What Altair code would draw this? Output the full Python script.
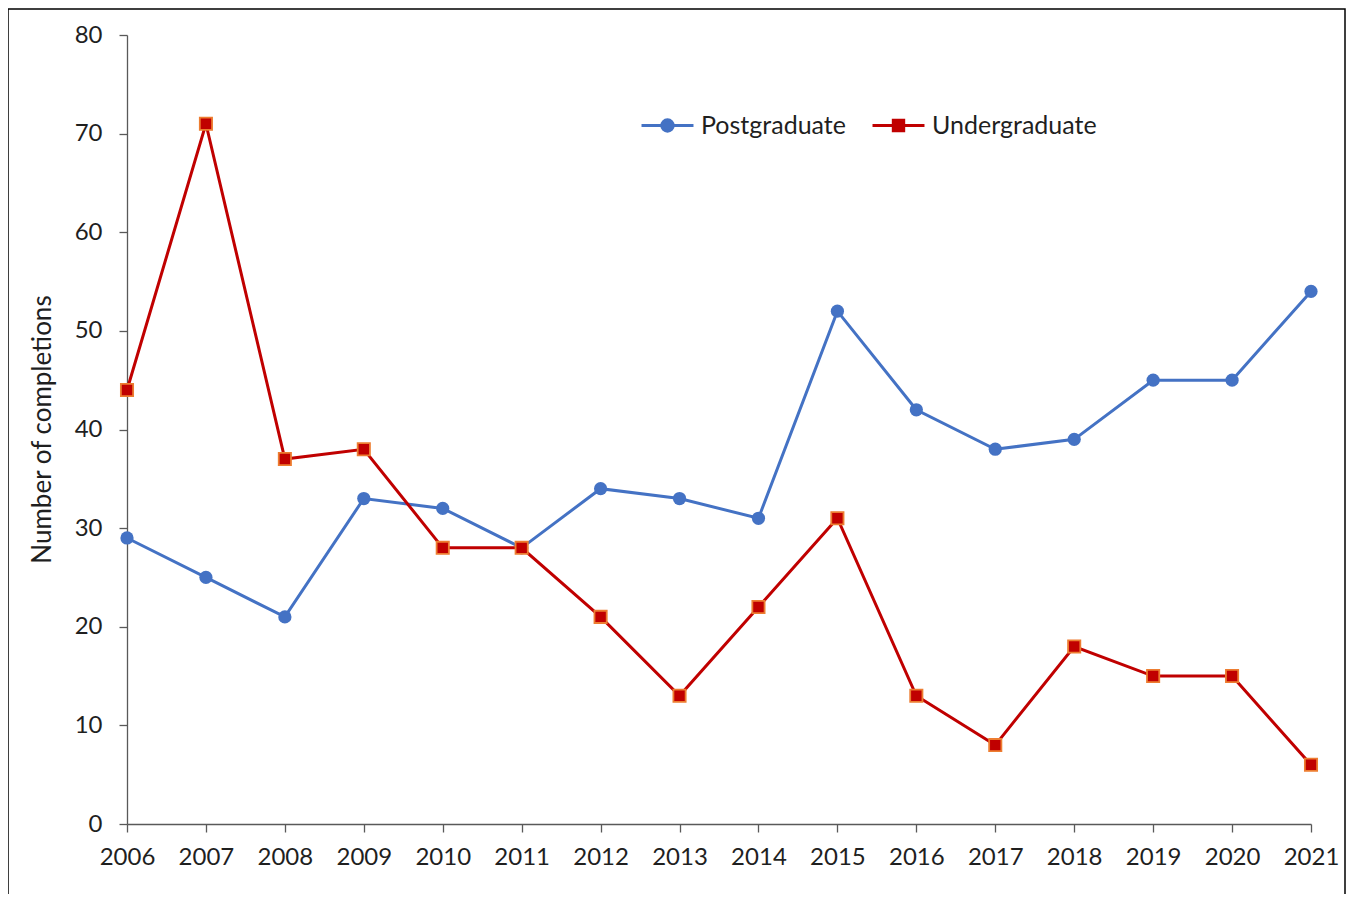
import altair as alt
import pandas as pd

years = list(range(2006, 2022))
postgraduate = [29, 25, 21, 33, 32, 28, 34, 33, 31, 52, 42, 38, 39, 45, 45, 54]
undergraduate = [44, 71, 37, 38, 28, 28, 21, 13, 22, 31, 13, 8, 18, 15, 15, 6]
series_names = ["Postgraduate", "Undergraduate"]
line_colors = ["#4472C4", "#C00000"]
marker_stroke = ["#4472C4", "#ED7D31"]
y_ticks = [0, 10, 20, 30, 40, 50, 60, 70, 80]
y_title = "Number of completions"

FONT = "Lato"
TEXT = "#1f1f1f"
AXIS = "#595959"

df = pd.DataFrame({
    "Year": years + years,
    "Completions": postgraduate + undergraduate,
    "Series": [series_names[0]] * len(years) + [series_names[1]] * len(years),
})

x_enc = alt.X("Year:Q", scale=alt.Scale(domain=[years[0], years[-1]], nice=False, zero=False),
              axis=alt.Axis(values=years, format="d", title=None, grid=False,
                            labelFont=FONT, labelFontSize=24, labelColor=TEXT,
                            labelPadding=13, tickSize=8, labelFlush=False))
y_enc = alt.Y("Completions:Q", scale=alt.Scale(domain=[0, 80], nice=False),
              axis=alt.Axis(values=y_ticks, title=y_title, grid=False,
                            labelFont=FONT, labelFontSize=24, labelColor=TEXT,
                            labelPadding=17, tickSize=8,
                            titleFont=FONT, titleFontSize=26, titleFontWeight="normal",
                            titleColor=TEXT, titleX=-85, titleY=394, titleAngle=270,
                            titleAlign="center", titleBaseline="middle"))

lines = alt.Chart(df).mark_line(strokeWidth=3).encode(
    x=x_enc, y=y_enc,
    color=alt.Color("Series:N", scale=alt.Scale(domain=series_names, range=line_colors), legend=None),
)

circles = alt.Chart(df).transform_filter(alt.datum.Series == series_names[0]).mark_point(
    shape="circle", filled=True, size=175, color=line_colors[0], opacity=1
).encode(x=x_enc, y=y_enc)

squares = alt.Chart(df).transform_filter(alt.datum.Series == series_names[1]).mark_point(
    shape="square", filled=True, size=150, fill=line_colors[1], stroke=marker_stroke[1],
    strokeWidth=1.8, opacity=1
).encode(x=x_enc, y=y_enc)

# legend glyphs: a line segment with the marker in the middle
circle_path = ("M-1,0L1,0M0.22,0C0.22,0.1215 0.1215,0.22 0,0.22C-0.1215,0.22 -0.22,0.1215 -0.22,0"
               "C-0.22,-0.1215 -0.1215,-0.22 0,-0.22C0.1215,-0.22 0.22,-0.1215 0.22,0Z")
square_path = "M-1,0L1,0M-0.2,-0.2L0.2,-0.2L0.2,0.2L-0.2,0.2Z"


def legend_for(name, glyph, lx):
    return alt.Legend(title=None, orient="none", legendX=lx, legendY=63, values=[name],
                      symbolType=glyph, symbolSize=2700, symbolStrokeWidth=3, symbolOpacity=1,
                      labelFont=FONT, labelFontSize=25, labelColor=TEXT, labelOffset=6,
                      labelLimit=400)


def legend_layer(name, glyph, lx):
    leg = legend_for(name, glyph, lx)
    return alt.Chart(df).transform_filter("false").mark_point(filled=True, opacity=1).encode(
        x=x_enc, y=y_enc,
        fill=alt.Fill("Series:N", scale=alt.Scale(domain=series_names, range=line_colors), legend=leg),
        stroke=alt.Stroke("Series:N", scale=alt.Scale(domain=series_names, range=line_colors), legend=leg),
    )


leg_post = legend_layer(series_names[0], circle_path, 513)
leg_under = legend_layer(series_names[1], square_path, 744)

frame = alt.Chart(alt.Data(values=[{"f": 1}])).mark_rect(
    fill="transparent", stroke="#000000", strokeWidth=1.5
).encode(x=alt.value(-119), x2=alt.value(1345 - 127), y=alt.value(-26), y2=alt.value(900))

chart = alt.layer(frame, lines, circles, squares, leg_post, leg_under).resolve_scale(
    fill="independent", stroke="independent"
).resolve_legend(
    fill="independent", stroke="independent"
).properties(
    width=1184, height=789,
    autosize=alt.AutoSizeParams(type="none"),
    padding={"left": 119, "top": 27, "right": 36, "bottom": 70},
    background="white",
).configure_view(stroke=None).configure_axis(
    domainColor=AXIS, tickColor=AXIS, domainWidth=1.3, tickWidth=1.3
)

chart.save("out.html", embed_options={"renderer": "svg", "actions": False})
